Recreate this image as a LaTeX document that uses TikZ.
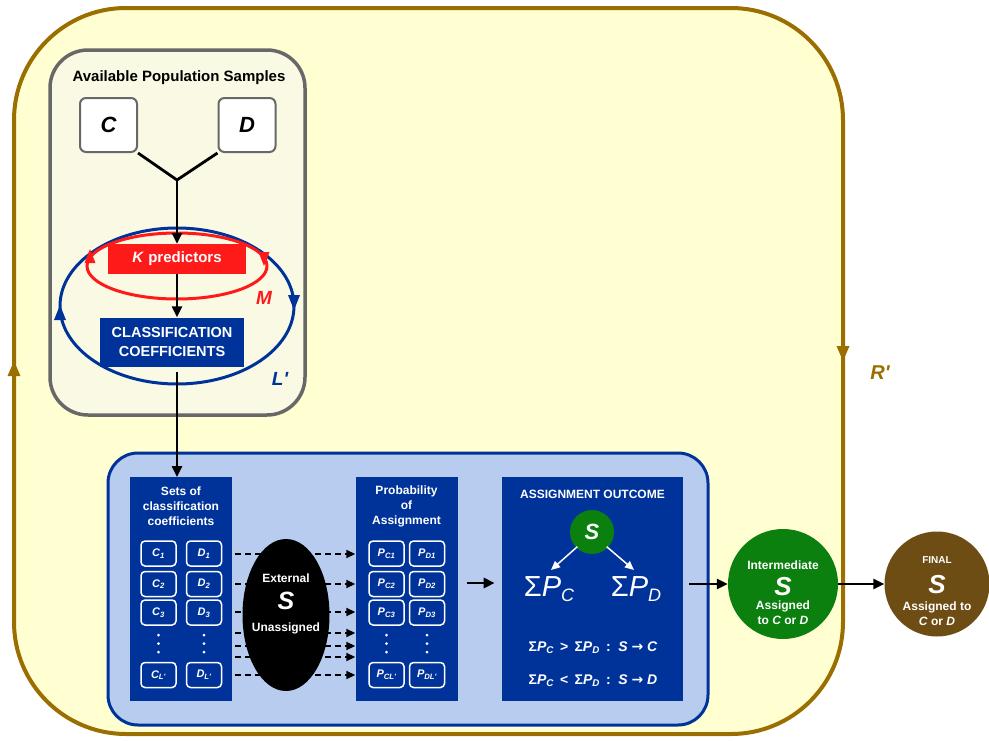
\documentclass[tikz,border=0pt]{standalone}
\usepackage{fontspec}
\setmainfont{Liberation Sans}
\newfontfamily\dejavu{DejaVu Sans}
\usetikzlibrary{arrows.meta,shapes.geometric}
\definecolor{oliv}{HTML}{9A6E00}
\definecolor{ylw}{HTML}{FFFFD2}
\definecolor{grayfill}{HTML}{FAFAE4}
\definecolor{grayline}{HTML}{686868}
\definecolor{dblue}{HTML}{00339A}
\definecolor{lblue}{HTML}{B8CCF0}
\definecolor{rred}{HTML}{FF1A1A}
\definecolor{grn}{HTML}{0B800F}
\definecolor{brn}{HTML}{6E4D14}
\newcommand{\fs}[1]{\fontsize{#1}{#1}\selectfont}
\newcommand{\rarr}{{\dejavu\bfseries →}}
\tikzset{
  arr/.style={line width=2.4pt, -{Triangle[length=11pt,width=10pt]}},
  dasharr/.style={line width=1.8pt, dash pattern=on 6pt off 4pt, -{Triangle[length=9pt,width=8pt]}},
  samp/.style={draw=grayline, line width=2pt, fill=white, rounded corners=6pt, minimum width=57pt, minimum height=54pt, font=\bfseries\itshape\fs{22}},
  col/.style={fill=dblue, minimum width=102pt, minimum height=224pt, anchor=north, inner sep=0pt},
  hdr/.style={text=white, align=center, font=\bfseries\fontsize{12}{15}\selectfont},
  sbox/.style={draw=white, line width=1.5pt, rounded corners=4pt, minimum width=35pt, minimum height=25pt, inner sep=0pt, text=white, font=\bfseries\itshape\fs{11}},
  wtxt/.style={text=white, font=\bfseries\fs{12}, inner sep=0pt},
}
\begin{document}
\begin{tikzpicture}[x=1pt,y=-1pt]
\useasboundingbox (0,0) rectangle (989,740);
% outer R' region
\draw[oliv, line width=4pt, fill=ylw, rounded corners=112pt] (14,8) rectangle (843,734);
\fill[oliv] (14,361) -- (7.5,376) -- (20.5,376) -- cycle;
\fill[oliv] (843,361) -- (836.5,346) -- (849.5,346) -- cycle;
\node[text=oliv, font=\bfseries\itshape\fs{20}] (rp) at (880,373) {R\textquotesingle};

% gray sample box
\draw[grayline, line width=3.5pt, fill=grayfill, rounded corners=38pt] (50,50) rectangle (305,415);
\node[font=\bfseries\fs{15}] (aps) at (179,78) {Available Population Samples};
\node[samp] (C) at (108.5,125) {C};
\node[samp] (D) at (247,125) {D};
\coordinate (j) at (177,180);

% ellipses
\draw[dblue, line width=3pt] (177,306) ellipse [x radius=117, y radius=78];
\fill[dblue] (60,305) -- (54,320) -- (66,320) -- cycle;
\fill[dblue] (294,310) -- (288,295) -- (300,295) -- cycle;
\draw[rred, line width=3pt] (177,266) ellipse [x radius=90, y radius=33];
\fill[rred] (90,249) -- (84.5,263) -- (95.5,263) -- cycle;
\fill[rred] (264,266) -- (258.5,252) -- (269.5,252) -- cycle;

\node[fill=rred, minimum width=138pt, minimum height=30pt, inner sep=0pt, text=white, font=\bfseries\fs{15}] (kp) at (177,259) {\textit{K} predictors};
\node[text=rred, font=\bfseries\itshape\fs{19}] (M) at (264,298) {M};
\node[fill=dblue, minimum width=144pt, minimum height=49pt, inner sep=0pt, text=white, align=center, font=\bfseries\fontsize{14.5}{19}\selectfont] (cc) at (172,342) {CLASSIFICATION\\COEFFICIENTS};
\node[text=dblue, font=\bfseries\itshape\fs{19}] (L) at (280,379) {L\textquotesingle};

\draw[line width=2.8pt] (C.south east) -- (j) -- (D.south west);
\draw[arr] (j) -- (kp.north);
\draw[arr] (kp.south) -- (kp.south |- cc.north);

% blue panel
\draw[dblue, line width=3pt, fill=lblue, rounded corners=30pt] (108,453) rectangle (708,725);

\node[col] (sets) at (181,477) {};
\node[hdr] (setsh) at (181,506) {Sets of\\classification\\coefficients};
\node[col] (prob) at (406.5,477) {};
\node[hdr] (probh) at (406.5,506) {Probability\\of\\Assignment};
\node[col, minimum width=181pt] (out) at (592.5,477) {};
\node[wtxt] (outh) at (592.5,494) {ASSIGNMENT OUTCOME};

\draw[arr] (kp.south |- cc.south) ++(0,5) coordinate (ccs) -- (ccs |- sets.north);

% small boxes
\foreach \n/\y in {1/553.5,2/584,3/612.5}{
  \node[sbox] (c\n) at (158.5,\y) {C\textsubscript{\n}};
  \node[sbox] (d\n) at (204,\y) {D\textsubscript{\n}};
  \node[sbox] (pc\n) at (386.5,\y) {P\textsubscript{C\n}};
  \node[sbox] (pd\n) at (427,\y) {P\textsubscript{D\n}};
}
\node[sbox] (cl) at (158.5,675) {C\textsubscript{L\textquotesingle}};
\node[sbox] (dl) at (204,675) {D\textsubscript{L\textquotesingle}};
\node[sbox] (pcl) at (386.5,675) {P\textsubscript{CL\textquotesingle}};
\node[sbox] (pdl) at (427,675) {P\textsubscript{DL\textquotesingle}};
\foreach \x in {158.5,204,386.5,427}{
  \foreach \y in {635,643.5,652}{
    \fill[white] (\x,\y) circle (1.5);
  }
}

% dashed arrows
\foreach \y in {554,584,612,633,646,657,675}{
  \draw[dasharr] (sets.east |- {(0,\y)}) ++(3,0) -- (prob.west |- {(0,\y)});
}
\node[ellipse, fill=black, minimum width=87pt, minimum height=152pt, inner sep=0pt] (ext) at (286,615) {};
\node[wtxt] (exta) at (286,578) {External};
\node[wtxt, font=\bfseries\itshape\fs{25}] (exts) at (286,601) {S};
\node[wtxt] (extb) at (286,628) {Unassigned};

% outcome
\draw[arr, line width=2.8pt] (prob.east |- {(0,583)}) ++(9,0) -- ++(28,0) coordinate (pa);
\node[circle, fill=grn, minimum size=44pt, inner sep=0pt, text=white, font=\bfseries\itshape\fs{22}] (sg) at (592,532) {S};
\node[text=white, font=\fs{29}, inner sep=0pt] (spc) at (549,589) {Σ\textit{P\fs{18}\raisebox{-5pt}{C}}};
\node[text=white, font=\fs{29}, inner sep=0pt] (spd) at (636,589) {Σ\textit{P\fs{18}\raisebox{-5pt}{D}}};
\draw[white, line width=1.5pt, -{Triangle[length=9pt,width=8pt]}] (sg.south west) ++(1,-1) -- (551,570);
\draw[white, line width=1.5pt, -{Triangle[length=9pt,width=8pt]}] (sg.south east) ++(-1,-1) -- (634,570);
\node[wtxt, font=\bfseries\fs{14}] (cond1) at (593,648) {Σ\textit{P\textsubscript{C}} \,>\, Σ\textit{P\textsubscript{D}} \,:\, \textit{S} \rarr\ \textit{C}};
\node[wtxt, font=\bfseries\fs{14}] (cond2) at (593,681) {Σ\textit{P\textsubscript{C}} \,<\, Σ\textit{P\textsubscript{D}} \,:\, \textit{S} \rarr\ \textit{D}};

% result circles
\node[circle, fill=grn, minimum size=110pt, inner sep=0pt] (inter) at (783,584) {};
\node[wtxt] (ia) at (783,565) {Intermediate};
\node[wtxt, font=\bfseries\itshape\fs{26}] (is) at (783,587) {S};
\node[wtxt] (ib) at (783,606) {Assigned};
\node[wtxt] (ic) at (783,620) {to \textit{C} or \textit{D}};
\node[circle, fill=brn, minimum size=105pt, inner sep=0pt] (fin) at (937,584) {};
\node[wtxt, font=\bfseries\fs{10}] (fa) at (937,560) {FINAL};
\node[wtxt, font=\bfseries\itshape\fs{26}] (fs) at (937,585) {S};
\node[wtxt] (fb) at (937,607) {Assigned to};
\node[wtxt] (fc) at (937,621) {\textit{C} or \textit{D}};

\draw[arr, line width=2.8pt] (out.east |- inter.west) ++(6,0) -- (inter.west);
\draw[arr, line width=2.8pt] (inter.east) -- (fin.west);
\end{tikzpicture}
\end{document}
